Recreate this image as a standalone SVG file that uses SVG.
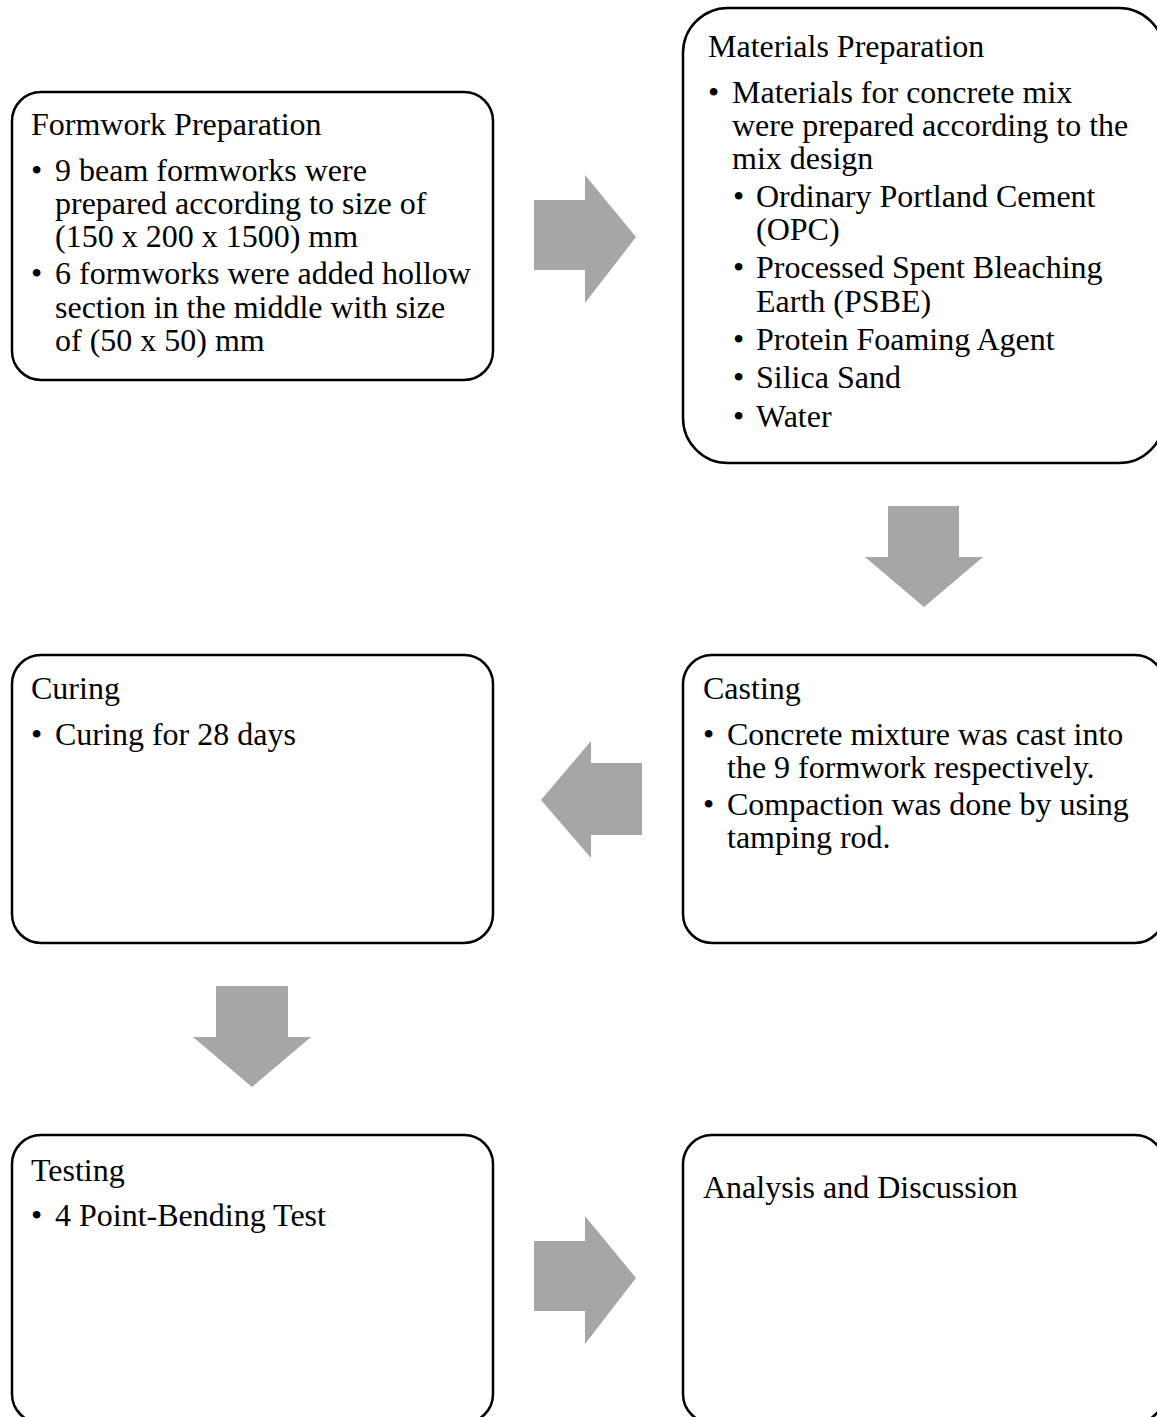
<svg xmlns="http://www.w3.org/2000/svg" width="1157" height="1417" viewBox="0 0 1157 1417">
<style>
.box{fill:#fff;stroke:#000;stroke-width:2.5}
.arr{fill:#A6A6A6}
text{font-family:"Liberation Serif","Times New Roman",serif;font-size:32px;fill:#000}
</style>
<rect width="1157" height="1417" fill="#fff"/>
<g id="connectors">
<polygon class="arr" points="534,200 585,200 585,175 636,237 585,303 585,270 534,270"/>
<polygon class="arr" points="888,506 959,506 959,557 983,557 924,607 865,557 888,557"/>
<polygon class="arr" points="642,763 591,763 591,741 541,800 591,858 591,835 642,835"/>
<polygon class="arr" points="216,986 288,986 288,1037 311,1037 252,1087 193,1037 216,1037"/>
<polygon class="arr" points="534,1241 585,1241 585,1216 636,1278 585,1344 585,1311 534,1311"/>
</g>
<g id="formwork">
<rect class="box" x="12" y="92" width="481" height="288" rx="29"/>
<text x="31" y="135">Formwork Preparation</text>
<text x="31" y="181">•</text>
<text x="55" y="181">9 beam formworks were</text>
<text x="55" y="214">prepared according to size of</text>
<text x="55" y="247">(150 x 200 x 1500) mm</text>
<text x="31" y="284">•</text>
<text x="55" y="284">6 formworks were added hollow</text>
<text x="55" y="318">section in the middle with size</text>
<text x="55" y="351">of (50 x 50) mm</text>
</g>
<g id="materials">
<rect class="box" x="683" y="8" width="481" height="455" rx="45"/>
<text x="708" y="57">Materials Preparation</text>
<text x="708" y="103">•</text>
<text x="732" y="103">Materials for concrete mix</text>
<text x="732" y="136">were prepared according to the</text>
<text x="732" y="169">mix design</text>
<text x="733" y="207">•</text>
<text x="756" y="207">Ordinary Portland Cement</text>
<text x="756" y="240">(OPC)</text>
<text x="733" y="278">•</text>
<text x="756" y="278">Processed Spent Bleaching</text>
<text x="756" y="312">Earth (PSBE)</text>
<text x="733" y="350">•</text>
<text x="756" y="350">Protein Foaming Agent</text>
<text x="733" y="388">•</text>
<text x="756" y="388">Silica Sand</text>
<text x="733" y="427">•</text>
<text x="756" y="427">Water</text>
</g>
<g id="casting">
<rect class="box" x="683" y="655" width="481" height="288" rx="29"/>
<text x="703" y="699">Casting</text>
<text x="703" y="745">•</text>
<text x="727" y="745">Concrete mixture was cast into</text>
<text x="727" y="778">the 9 formwork respectively.</text>
<text x="703" y="815">•</text>
<text x="727" y="815">Compaction was done by using</text>
<text x="727" y="848">tamping rod.</text>
</g>
<g id="curing">
<rect class="box" x="12" y="655" width="481" height="288" rx="29"/>
<text x="31" y="699">Curing</text>
<text x="31" y="745">•</text>
<text x="55" y="745">Curing for 28 days</text>
</g>
<g id="testing">
<rect class="box" x="12" y="1135" width="481" height="288" rx="29"/>
<text x="31" y="1181">Testing</text>
<text x="31" y="1226">•</text>
<text x="55" y="1226">4 Point-Bending Test</text>
</g>
<g id="analysis">
<rect class="box" x="683" y="1135" width="481" height="288" rx="29"/>
<text x="703" y="1198">Analysis and Discussion</text>
</g>
</svg>
